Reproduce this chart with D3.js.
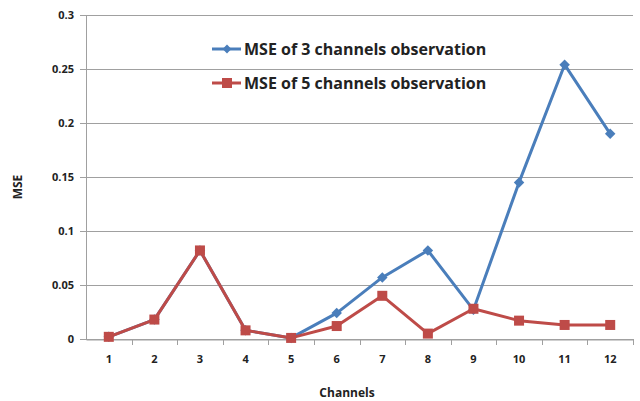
<!DOCTYPE html>
<html>
<head>
<meta charset="utf-8">
<script src="https://cdn.jsdelivr.net/npm/d3@7"></script>
<style>
  body { margin: 0; background: #fff; }
  svg text { font-family: "Open Sans", "Liberation Sans", sans-serif; font-weight: bold; fill: #222; }
</style>
</head>
<body>
<script>
var width  = 640
var height = 401
var margin = { top: 15, right: 7, bottom: 62, left: 86 }

var channels = ['1', '2', '3', '4', '5', '6', '7', '8', '9', '10', '11', '12']
var mse3 = [0.002, 0.018, 0.082, 0.008, 0.001, 0.024, 0.057, 0.082, 0.027, 0.145, 0.254, 0.190]
var mse5 = [0.002, 0.018, 0.082, 0.008, 0.001, 0.012, 0.040, 0.005, 0.028, 0.017, 0.013, 0.013]
var yTicks = [0, 0.05, 0.1, 0.15, 0.2, 0.25, 0.3]
var seriesNames = ['MSE of 3 channels observation', 'MSE of 5 channels observation']

var blue = '#4a7ebb'
var red  = '#be4b48'

var svg = d3.select('body')
  .append('svg')
  .attr('width', width)
  .attr('height', height)

var xScale = d3.scaleBand()
  .domain(channels)
  .range([margin.left, width - margin.right])

var yScale = d3.scaleLinear()
  .domain([0, 0.3])
  .range([height - margin.bottom, margin.top])

// gridlines
svg.append('g')
  .selectAll('line')
  .data(yTicks)
  .enter().append('line')
  .attr('x1', margin.left - 6)
  .attr('x2', width - margin.right)
  .attr('y1', d => Math.round(yScale(d)) + 0.5)
  .attr('y2', d => Math.round(yScale(d)) + 0.5)
  .attr('stroke', '#a0a0a0')
  .attr('stroke-width', 1)

// y axis line
svg.append('line')
  .attr('x1', margin.left + 0.5).attr('x2', margin.left + 0.5)
  .attr('y1', margin.top).attr('y2', height - margin.bottom)
  .attr('stroke', '#a0a0a0')

// x axis ticks between categories
var xAxis = d3.axisBottom(xScale).tickSize(0).tickPadding(16)
var gx = svg.append('g')
  .attr('transform', 'translate(0,' + (Math.round(yScale(0)) + 0.5) + ')')
  .call(xAxis)
gx.select('.domain').attr('stroke', '#a0a0a0')
gx.selectAll('text').style('font-size', '11px')

svg.append('g')
  .selectAll('line')
  .data(channels)
  .enter().append('line')
  .attr('x1', d => Math.round(xScale(d) + xScale.bandwidth()) + 0.5)
  .attr('x2', d => Math.round(xScale(d) + xScale.bandwidth()) + 0.5)
  .attr('y1', yScale(0))
  .attr('y2', yScale(0) + 6)
  .attr('stroke', '#a0a0a0')

// y tick labels
svg.append('g')
  .selectAll('text')
  .data(yTicks)
  .enter().append('text')
  .attr('x', margin.left - 12)
  .attr('y', d => yScale(d))
  .attr('dy', '0.35em')
  .attr('text-anchor', 'end')
  .style('font-size', '11px')
  .text(d => d)

// axis titles
svg.append('text')
  .attr('x', 347)
  .attr('y', 397)
  .attr('text-anchor', 'middle')
  .style('font-size', '12px')
  .text('Channels')

svg.append('text')
  .attr('transform', 'translate(22,' + 187 + ') rotate(-90)')
  .attr('text-anchor', 'middle')
  .style('font-size', '12px')
  .text('MSE')

var cx = (d, i) => xScale(channels[i]) + xScale.bandwidth() / 2
var line = d3.line().x(cx).y(d => yScale(d))

// blue series
svg.append('path')
  .datum(mse3)
  .attr('d', line)
  .attr('fill', 'none')
  .attr('stroke', blue)
  .attr('stroke-width', 3)
  .attr('stroke-linejoin', 'round')

svg.append('g')
  .selectAll('path')
  .data(mse3)
  .enter().append('path')
  .attr('d', d3.symbol().type(d3.symbolDiamond2).size(70))
  .attr('transform', (d, i) => 'translate(' + cx(d, i) + ',' + yScale(d) + ')')
  .attr('fill', blue)

// red series
svg.append('path')
  .datum(mse5)
  .attr('d', line)
  .attr('fill', 'none')
  .attr('stroke', red)
  .attr('stroke-width', 3)
  .attr('stroke-linejoin', 'round')

svg.append('g')
  .selectAll('rect')
  .data(mse5)
  .enter().append('rect')
  .attr('x', (d, i) => cx(d, i) - 5)
  .attr('y', d => yScale(d) - 5)
  .attr('width', 10)
  .attr('height', 10)
  .attr('fill', red)

// legend
var legend = svg.append('g')
var legendColors = [blue, red]
seriesNames.forEach((name, i) => {
  var ly = 49 + i * 34
  legend.append('line')
    .attr('x1', 212).attr('x2', 241)
    .attr('y1', ly).attr('y2', ly)
    .attr('stroke', legendColors[i])
    .attr('stroke-width', 3)
  if (i === 0) {
    legend.append('path')
      .attr('d', d3.symbol().type(d3.symbolDiamond2).size(50))
      .attr('transform', 'translate(227,' + ly + ')')
      .attr('fill', blue)
  } else {
    legend.append('rect')
      .attr('x', 222).attr('y', ly - 5)
      .attr('width', 10).attr('height', 10)
      .attr('fill', red)
  }
  legend.append('text')
    .attr('x', 244)
    .attr('y', ly)
    .attr('dy', '0.35em')
    .style('font-size', '16px')
    .text(name)
})
</script>
</body>
</html>
